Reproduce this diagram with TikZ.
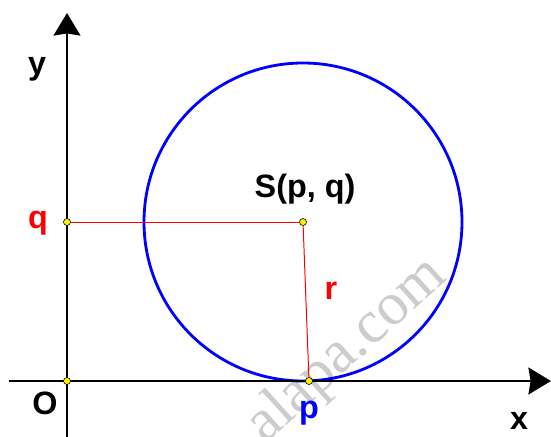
\documentclass[tikz,border=0pt]{standalone}
\usepackage{fontspec}
\setmainfont{Liberation Sans}
\newfontfamily\wmfont{Liberation Serif}
\usepackage{tikz}
\usetikzlibrary{
  arrows.meta,
  positioning,
  calc
}

\begin{document}
\begin{tikzpicture}[
  axis/.style={line width=2.1pt,-{Stealth[length=16pt,width=19pt,inset=1.5pt]}},
  dot/.style={circle,fill=yellow,draw=black,line width=0.4pt,inner sep=0pt,minimum size=5pt},
  lbl/.style={font=\bfseries\fontsize{23}{23}\selectfont,inner sep=0pt},
  radius line/.style={red,line width=0.7pt}
]
  \useasboundingbox (-1.675,-1.375) rectangle (12.1,9.525);
  % watermark
  \node[rotate=42,text=gray!40,font=\wmfont\fontsize{43}{43}\selectfont] (wm) at (7.0,0.75) {alapa.com};
  % circle
  \draw[blue,line width=2pt] (5.9,3.975) circle (3.975);
  % axes
  \coordinate (xl) at (-1.45,0);
  \coordinate (xr) at (12.1,0);
  \coordinate (yb) at (0,-1.4);
  \coordinate (yt) at (0,9.2);
  \draw[axis] (xl) -- (xr);
  \draw[axis] (yb) -- (yt);
  % points
  \node[dot] (S) at (5.9,3.975) {};
  \node[dot] (q) at (0,3.975) {};
  \node[dot] (p) at (6.05,0) {};
  \node[dot] (O) at (0,0) {};
  % radius and projection
  \draw[radius line] (q) -- (S);
  \draw[radius line] (S) -- (p);
  % labels
  \node[lbl] (ylab) at (-0.75,7.8) {y};
  \node[lbl] (xlab) at (11.3,-1.0) {x};
  \node[lbl] (Olab) at (-0.55,-0.55) {O};
  \node[lbl,red] (qlab) at (-0.725,3.95) {q};
  \node[lbl,red] (rlab) at (6.6,2.25) {r};
  \node[lbl,blue] (plab) at (6.05,-0.8) {p};
  \node[lbl] (Slab) at (5.95,4.8) {S(p, q)};
\end{tikzpicture}
\end{document}
